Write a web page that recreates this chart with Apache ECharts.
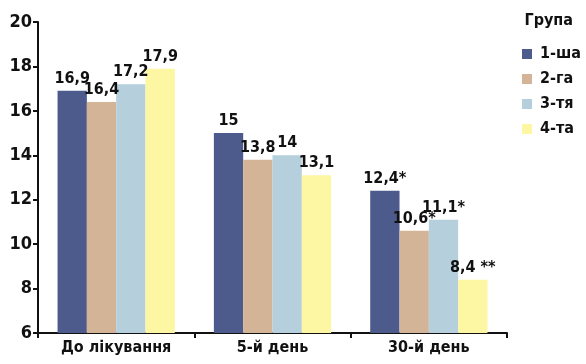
<!DOCTYPE html>
<html><head><meta charset="utf-8">
<script src="https://cdn.jsdelivr.net/npm/echarts@6/dist/echarts.min.js"></script>
<style>html,body{margin:0;padding:0;background:#fff}#c{width:586px;height:364px}</style>
</head><body><div id="c"></div>
<script>
const categories = ['До лікування', '5-й день', '30-й день'];
const seriesNames = ['1-ша', '2-га', '3-тя', '4-та'];
const g1 = [16.9, 15, 12.4];
const g2 = [16.4, 13.8, 10.6];
const g3 = [17.2, 14, 11.1];
const g4 = [17.9, 13.1, 8.4];
const l1 = ['16,9', '15', '12,4*'];
const l2 = ['16,4', '13,8', '10,6*'];
const l3 = ['17,2', '14', '11,1*'];
const l4 = ['17,9', '13,1', '8,4 **'];
const yTicks = [6, 8, 10, 12, 14, 16, 18, 20];
const colors = ['#4c5b8c', '#d3b497', '#b5cfdd', '#fdf6a2'];
const FONT = '"Liberation Sans Narrow", "DejaVu Sans Condensed", sans-serif';

const values = [g1, g2, g3, g4];
const labels = [l1, l2, l3, l4];
const chart = echarts.init(document.getElementById('c'));
chart.setOption({
  animation: false,
  textStyle: { fontFamily: FONT },
  title: { text: 'Група', right: 8, top: 8, textStyle: { fontFamily: FONT, fontSize: 16, fontWeight: 'bold', color: '#111' } },
  legend: {
    orient: 'vertical', left: 517, top: 41, itemGap: 9, itemWidth: 10, itemHeight: 10,
    icon: 'rect',
    textStyle: { fontFamily: FONT, fontSize: 16, fontWeight: 'bold', color: '#111', padding: [0, 0, 0, 3] },
    data: seriesNames
  },
  grid: { left: 38, right: 79, top: 22, bottom: 31 },
  xAxis: {
    type: 'category', data: categories,
    axisLine: { lineStyle: { color: '#111', width: 2 } },
    axisTick: { show: true, length: 5, lineStyle: { color: '#111', width: 2 } },
    axisLabel: { fontFamily: FONT, fontSize: 16, fontWeight: 'bold', color: '#111', margin: 7 }
  },
  yAxis: {
    type: 'value', min: 6, max: 20, interval: 2,
    splitLine: { show: false },
    axisLine: { show: true, lineStyle: { color: '#111', width: 2 } },
    axisTick: { show: true, length: 5, lineStyle: { color: '#111', width: 2 } },
    axisLabel: { fontFamily: FONT, fontSize: 18, fontWeight: 'bold', color: '#111', margin: 6,
      formatter: v => yTicks.includes(v) ? String(v) : '' }
  },
  series: seriesNames.map((n, i) => ({
    name: n, type: 'bar', barGap: '0%', barCategoryGap: '25%',
    data: values[i],
    itemStyle: { color: colors[i] },
    label: { show: true, position: 'top', distance: 4, fontFamily: FONT, fontSize: 16, fontWeight: 'bold', color: '#111',
      formatter: p => labels[i][p.dataIndex] }
  }))
});
</script></body></html>
